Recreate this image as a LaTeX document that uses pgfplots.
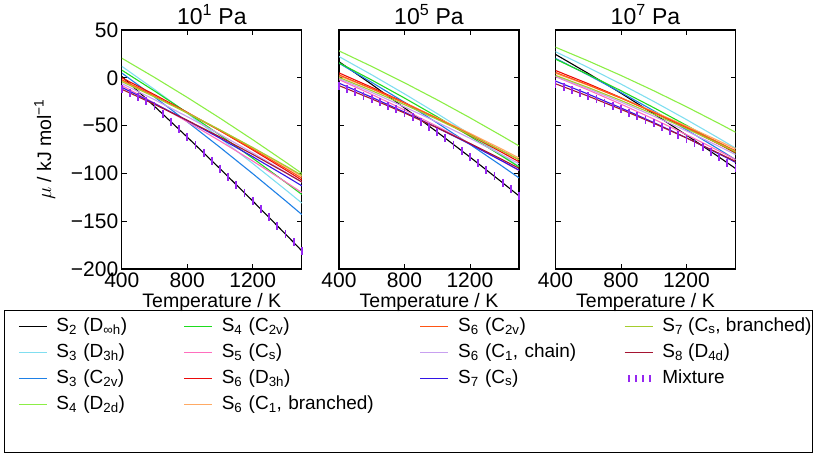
\documentclass[border=0pt]{standalone}
\usepackage{fontspec}
\setmainfont{Liberation Sans}
\usepackage{pgfplots}
\usepackage{pgfplotstable}
\pgfplotsset{compat=1.18}

\definecolor{cS2}{RGB}{0,0,0}
\definecolor{cS3a}{RGB}{128,222,240}
\definecolor{cS3b}{RGB}{30,128,230}
\definecolor{cS4a}{RGB}{140,238,70}
\definecolor{cS4b}{RGB}{30,220,30}
\definecolor{cS5}{RGB}{255,110,190}
\definecolor{cS6a}{RGB}{235,10,10}
\definecolor{cS6b}{RGB}{255,170,100}
\definecolor{cS6c}{RGB}{255,85,20}
\definecolor{cS6d}{RGB}{200,160,240}
\definecolor{cS7a}{RGB}{50,20,230}
\definecolor{cS7b}{RGB}{165,205,45}
\definecolor{cS8}{RGB}{165,20,50}
\definecolor{cMix}{RGB}{150,40,240}

\newcommand\fs{\fontsize{19.5}{23}\selectfont}
\newcommand\fsT{\fontsize{23}{27}\selectfont}
\newcommand\fsK{\fontsize{21}{25}\selectfont}
\newcommand\fsG{\fontsize{19}{23}\selectfont}

% panel 1: 10^1 Pa
\pgfplotstableread{
T s2 s3a s3b s4a s4b s5 s6a s6b s6c s6d s7a s7b s8
400 1.5 12 5 20.5 8 -8 0 -3 -2 -6 -10 -4 -12
600 -29.88 -12.2 -20.11 0.39 -13.83 -26.56 -17.65 -19.38 -18.93 -22.93 -26.93 -20.02 -27.83
800 -62.06 -37.2 -46.01 -20.51 -36.47 -45.92 -36.11 -36.56 -36.65 -40.65 -44.65 -36.83 -44.47
1000 -95.05 -63.0 -72.73 -42.23 -59.92 -66.10 -55.37 -54.55 -55.19 -59.19 -63.19 -54.46 -61.91
1200 -128.83 -89.6 -100.24 -64.74 -84.15 -87.06 -75.42 -73.33 -74.51 -78.51 -82.51 -72.88 -80.15
1400 -163.41 -117.0 -128.55 -88.05 -109.18 -108.82 -96.27 -92.91 -94.64 -98.64 -102.64 -92.09 -99.18
1500 -181 -131 -143 -100 -122 -120 -107 -103 -105 -109 -113 -102 -109
}\tabA
% panel 2: 10^5 Pa
\pgfplotstableread{
T s2 s3a s3b s4a s4b s5 s6a s6b s6c s6d s7a s7b s8
400 16.82 22.21 15.21 28.16 15.66 -1.87 5.11 2.11 3.11 -0.89 -5.62 0.38 -8.17
600 -6.91 3.12 -4.79 11.88 -2.34 -17.37 -9.99 -11.72 -11.27 -15.27 -20.37 -13.46 -22.09
800 -31.43 -16.78 -25.59 -5.19 -21.15 -33.67 -25.90 -26.35 -26.44 -30.44 -35.90 -28.08 -36.81
1000 -56.76 -37.47 -47.20 -23.08 -40.77 -50.78 -42.61 -41.79 -42.43 -46.43 -52.25 -43.52 -52.34
1200 -82.88 -58.97 -69.61 -41.76 -61.17 -68.68 -60.10 -58.01 -59.19 -63.19 -69.38 -59.75 -68.66
1400 -109.80 -81.26 -92.81 -61.25 -82.38 -87.38 -78.40 -75.04 -76.77 -80.77 -87.32 -76.77 -85.78
1500 -123.56 -92.71 -104.71 -71.28 -93.28 -97.03 -87.85 -83.85 -85.85 -89.85 -96.59 -85.59 -94.64
}\tabB
% panel 3: 10^7 Pa
\pgfplotstableread{
T s2 s3a s3b s4a s4b s5 s6a s6b s6c s6d s7a s7b s8
400 24.47 27.31 20.31 31.99 19.49 1.19 7.66 4.66 5.66 1.66 -3.44 2.56 -6.26
600 4.58 10.77 2.86 17.62 3.40 -12.78 -6.16 -7.89 -7.44 -11.44 -17.08 -10.17 -19.21
800 -16.11 -6.57 -15.38 2.46 -13.50 -27.54 -20.79 -21.24 -21.33 -25.33 -31.52 -23.70 -32.98
1000 -37.62 -24.71 -34.44 -13.51 -31.20 -43.13 -36.23 -35.41 -36.05 -40.05 -46.78 -38.05 -47.55
1200 -59.91 -43.66 -54.30 -30.28 -49.69 -59.49 -52.45 -50.36 -51.54 -55.54 -62.82 -53.19 -62.92
1400 -83.01 -63.40 -74.95 -47.85 -68.98 -76.66 -69.47 -66.11 -67.84 -71.84 -79.67 -69.12 -79.08
1500 -94.85 -73.57 -85.57 -56.93 -78.93 -85.54 -78.28 -74.28 -76.28 -80.28 -88.39 -77.39 -87.46
}\tabC
% mixture
\pgfplotstableread{
T a b c
400 -12 -8.17 -6.26
450 -15.96 -11.65 -9.50
500 -19.92 -15.13 -12.74
550 -24.0 -18.61 -15.97
600 -30.0 -22.09 -19.21
650 -37.93 -25.77 -22.65
700 -45.97 -29.45 -26.10
750 -54.02 -33.13 -29.54
800 -62.06 -36.81 -32.98
850 -70.31 -40.69 -36.62
900 -78.56 -46.0 -40.27
950 -86.80 -51.0 -43.91
1000 -95.05 -57.0 -47.6
1050 -103.50 -63.29 -51.8
1100 -111.94 -69.82 -55.6
1150 -120.39 -76.35 -59.5
1200 -128.83 -82.88 -63.6
1250 -137.48 -89.61 -68.0
1300 -146.12 -96.34 -72.9
1350 -154.77 -103.07 -77.8
1400 -163.41 -109.80 -83.2
1450 -172.21 -116.68 -89.0
1500 -181 -123.56 -94.85
}\tabMix

\newcommand\plotspecies[1]{%
\addplot[color=cS2] table[x=T,y=s2]{#1};
\addplot[color=cS3a] table[x=T,y=s3a]{#1};
\addplot[color=cS3b] table[x=T,y=s3b]{#1};
\addplot[color=cS4a] table[x=T,y=s4a]{#1};
\addplot[color=cS4b] table[x=T,y=s4b]{#1};
\addplot[color=cS5] table[x=T,y=s5]{#1};
\addplot[color=cS6a] table[x=T,y=s6a]{#1};
\addplot[color=cS6b] table[x=T,y=s6b]{#1};
\addplot[color=cS6c] table[x=T,y=s6c]{#1};
\addplot[color=cS6d] table[x=T,y=s6d]{#1};
\addplot[color=cS7a] table[x=T,y=s7a]{#1};
\addplot[color=cS7b] table[x=T,y=s7b]{#1};
\addplot[color=cS8] table[x=T,y=s8]{#1};
}

\newcommand\limg[1]{\addlegendimage{legend image code/.code={\draw[draw=#1, line width=1.3pt] (0pt,0pt) -- (28pt,0pt);}}}

\pgfplotsset{
  panel/.style={
    scale only axis, width=180pt, height=239pt, anchor=south west,
    xmin=400, xmax=1500, ymin=-200, ymax=50,
    xtick={400,800,1200}, xticklabels={400,800,1200},
    ytick={-200,-150,-100,-50,0,50},
    tick align=inside, major tick length=5pt,
    axis line style={line width=1.1pt},
    every tick/.style={black, line width=0.8pt},
    tick label style={font=\fsK},
    title style={font=\fsT, yshift=-4pt},
    every axis x label/.style={at={(axis description cs:0.5,0)}, anchor=center, yshift=-33pt, font=\fs},
    every axis plot/.append style={line width=1.1pt},
    mixstyle/.style={only marks, mark=|, mark size=4pt, color=cMix, mark options={line width=1.8pt}},
  }
}

\begin{document}
\begin{tikzpicture}
\useasboundingbox (0,0) rectangle (817pt,454pt);

\begin{axis}[panel, at={(121.8pt,185pt)},
  title={10\textsuperscript{1} Pa},
  xlabel={Temperature / K},
  yticklabels={−200,−150,−100,−50,0,50},
  ylabel={$\mu$ / kJ mol\textsuperscript{−1}},
  every axis y label/.style={at={(axis description cs:-0.428,0.5)}, rotate=90, anchor=center, font=\fs},
]
\plotspecies{\tabA}
\addplot[mixstyle] table[x=T,y=a]{\tabMix};
\end{axis}

\begin{axis}[panel, at={(339pt,185pt)},
  title={10\textsuperscript{5} Pa},
  xlabel={Temperature / K},
  yticklabels={},
]
\plotspecies{\tabB}
\addplot[mixstyle] table[x=T,y=b]{\tabMix};
\end{axis}

\begin{axis}[panel, at={(555.5pt,185pt)},
  title={10\textsuperscript{7} Pa},
  xlabel={Temperature / K},
  yticklabels={},
]
\plotspecies{\tabC}
\addplot[mixstyle] table[x=T,y=c]{\tabMix};
\end{axis}

% legend box
\begin{axis}[scale only axis, width=808pt, height=142pt, at={(4pt,2pt)}, anchor=south west,
  xmin=0, xmax=1, ymin=0, ymax=1, xtick=\empty, ytick=\empty,
  axis line style={line width=0.8pt},
  legend columns=4,
  legend cell align=left,
  legend style={at={(axis description cs:0,1)}, anchor=north west, xshift=11pt, yshift=-5pt,
    draw=none, fill=none, font=\fsG,
    nodes={inner sep=0pt, text height=14pt, text depth=5pt},
    row sep=7pt,
    /tikz/every odd column/.append style={column sep=9pt},
    /tikz/every even column/.append style={column sep=0pt},
    /tikz/column 2/.style={nodes={text width=127pt}},
    /tikz/column 4/.style={nodes={text width=198pt}},
    /tikz/column 6/.style={nodes={text width=166pt}}},
]
\limg{cS2}\addlegendentry{S\textsubscript{2} (D\textsubscript{∞h})}
\limg{cS4b}\addlegendentry{S\textsubscript{4} (C\textsubscript{2v})}
\limg{cS6c}\addlegendentry{S\textsubscript{6} (C\textsubscript{2v})}
\limg{cS7b}\addlegendentry{S\textsubscript{7} (C\textsubscript{s}, branched)}
\limg{cS3a}\addlegendentry{S\textsubscript{3} (D\textsubscript{3h})}
\limg{cS5}\addlegendentry{S\textsubscript{5} (C\textsubscript{s})}
\limg{cS6d}\addlegendentry{S\textsubscript{6} (C\textsubscript{1}, chain)}
\limg{cS8}\addlegendentry{S\textsubscript{8} (D\textsubscript{4d})}
\limg{cS3b}\addlegendentry{S\textsubscript{3} (C\textsubscript{2v})}
\limg{cS6a}\addlegendentry{S\textsubscript{6} (D\textsubscript{3h})}
\limg{cS7a}\addlegendentry{S\textsubscript{7} (C\textsubscript{s})}
\addlegendimage{legend image code/.code={\draw[draw=cMix, line width=1.8pt] (4pt,-3.5pt) -- (4pt,3.5pt) (11pt,-3.5pt) -- (11pt,3.5pt) (18pt,-3.5pt) -- (18pt,3.5pt) (25pt,-3.5pt) -- (25pt,3.5pt);}}\addlegendentry{Mixture}
\limg{cS4a}\addlegendentry{S\textsubscript{4} (D\textsubscript{2d})}
\limg{cS6b}\addlegendentry{S\textsubscript{6} (C\textsubscript{1}, branched)}
\end{axis}
\end{tikzpicture}
\end{document}
